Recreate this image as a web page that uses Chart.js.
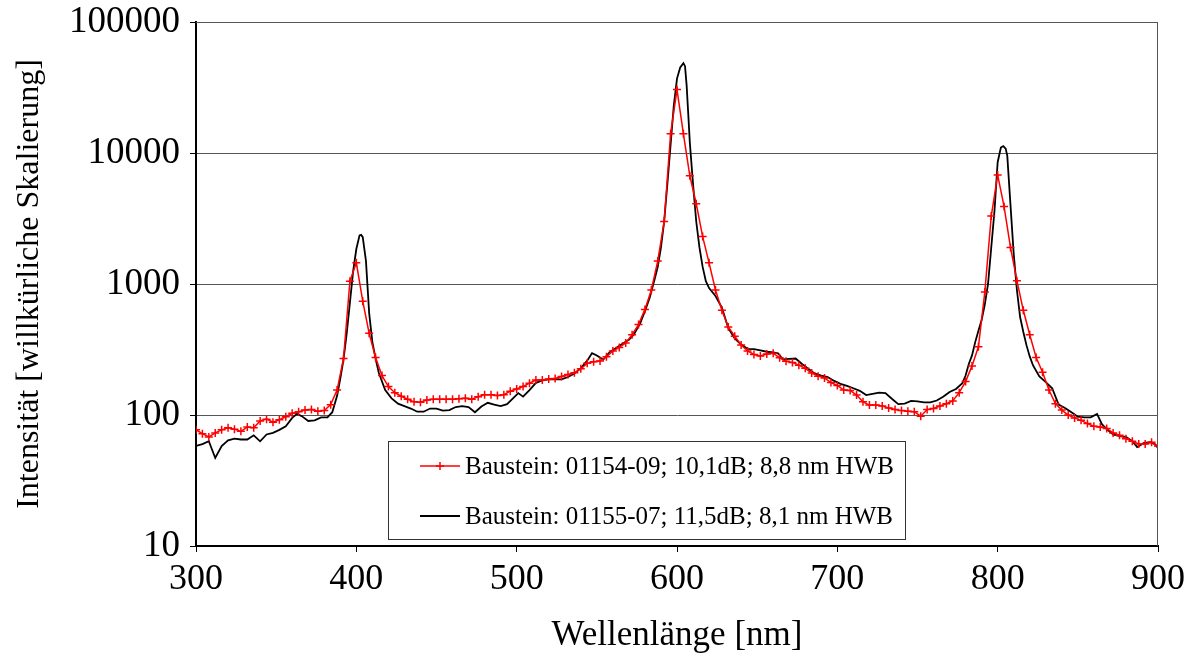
<!DOCTYPE html>
<html><head><meta charset="utf-8">
<script src="https://cdn.jsdelivr.net/npm/chart.js@4/dist/chart.umd.min.js"></script>
<style>html,body{margin:0;padding:0;background:#fff;}#wrap{width:1185px;height:657px;position:relative}</style>
</head><body><div id="wrap"><canvas id="c" width="1185" height="657"></canvas></div>
<script>
const seriesLabels = ['Baustein: 01154-09; 10,1dB; 8,8 nm HWB', 'Baustein: 01155-07; 11,5dB; 8,1 nm HWB'];
const xTicks = [300, 400, 500, 600, 700, 800, 900];
const yTicks = [10, 100, 1000, 10000, 100000];

const redNm = [300,304,308,312,316,320,324,328,332,336,340,344,348,352,356,360,364,368,372,376,380,384,388,392,396,400,404,408,412,416,420,424,428,432,436,440,444,448,452,456,460,464,468,472,476,480,484,488,492,496,500,504,508,512,516,520,524,528,532,536,540,544,548,552,556,560,564,568,572,576,580,584,588,592,596,600,604,608,612,616,620,624,628,632,636,640,644,648,652,656,660,664,668,672,676,680,684,688,692,696,700,704,708,712,716,720,724,728,732,736,740,744,748,752,756,760,764,768,772,776,780,784,788,792,796,800,804,808,812,816,820,824,828,832,836,840,844,848,852,856,860,864,868,872,876,880,884,888,892,896,900];
const redVal = [77,72,68,73,77,80,78,75,81,80,90,93,88,92,97,103,106,109,110,107,108,120,155,270,1050,1450,740,420,275,200,165,148,139,132,126,125,130,132,132,132,132,133,134,132,138,143,143,141,143,152,158,165,175,185,185,188,190,197,204,210,225,248,255,258,278,308,328,355,410,490,640,900,1500,3000,14000,30500,14000,6700,4100,2300,1450,900,630,470,400,342,308,290,282,292,296,273,257,252,240,227,209,198,192,177,168,155,154,142,126,119,119,117,113,110,108,107,106,98,110,112,117,122,128,148,180,237,332,870,3300,6800,3900,1900,1060,630,410,275,212,155,122,109,100,95,91,86,82,81,79,73,70,66,63,60,60,62,58];

const blackNm = [300,304,308,312,316,320,324,328,332,336,340,344,348,352,356,360,363,366,370,374,378,382,385,388,390,392,394,396,398,400,402,403,404,406,407,408,410,412,414,418,422,426,430,434,438,442,446,450,454,458,462,466,470,474,478,482,486,490,494,498,501,504,508,512,516,520,524,528,532,536,540,544,547,550,554,558,562,566,570,573,577,580,583,586,588,590,592,594,596,598,600,602,604,605,606,607,608,610,612,614,616,618,620,624,628,632,636,640,644,648,652,656,660,663,666,670,674,678,682,686,690,694,698,702,706,710,714,718,722,726,730,734,738,742,746,750,754,758,762,766,770,774,778,780,782,784,786,788,790,792,794,796,798,800,802,803.5,805,806,808,810,812,814,816,818,820,822,826,830,834,838,842,846,850,854,858,862,865,868,872,876,880,884,887,891,895,898,900];
const blackVal = [58,60,63,47,58,64,66,65,65,70,63,71,73,77,82,95,102,98,90,91,96,96,105,140,190,265,420,720,1250,1850,2350,2370,2280,1500,950,600,360,270,210,155,134,122,117,112,106,106,112,112,108,109,115,117,115,105,116,124,120,117,121,135,147,138,155,176,184,187,187,187,195,207,228,260,297,285,265,302,325,350,375,410,500,620,790,1080,1355,1900,3000,5800,11500,23000,37000,45000,48500,46000,33000,20000,12000,5800,3000,1900,1350,1050,930,810,660,460,385,345,320,318,312,304,300,296,266,268,270,245,225,207,200,195,182,173,167,160,153,142,145,148,147,133,121,122,128,127,125,125,129,138,150,158,175,200,245,285,360,440,530,700,1000,1900,3600,8500,11000,11300,10800,9500,4000,1700,900,560,430,340,280,240,197,178,160,120,113,105,97,96,96,102,85,78,71,69,68,63,57,61,62,60,56];

const SERIF = '"Liberation Serif", "Times New Roman", serif';

const framePlugin = {
  id: 'frameAndLegend',
  afterDraw(chart) {
    const {ctx, chartArea: a} = chart;
    ctx.save();
    ctx.strokeStyle = '#555';
    ctx.lineWidth = 1;
    ctx.beginPath();
    ctx.moveTo(a.left, a.top + 0.5); ctx.lineTo(a.right, a.top + 0.5);
    ctx.moveTo(a.right - 0.5, a.top); ctx.lineTo(a.right - 0.5, a.bottom);
    ctx.stroke();
    const bx = 388, by = 441, bw = 517, bh = 98;
    ctx.fillStyle = '#fff';
    ctx.fillRect(bx, by, bw, bh);
    ctx.strokeStyle = '#333';
    ctx.strokeRect(bx + 0.5, by + 0.5, bw, bh);
    ctx.font = '25px ' + SERIF;
    ctx.textBaseline = 'middle';
    ctx.textAlign = 'left';
    chart.data.datasets.forEach((ds, i) => {
      const cy = by + 25 + i * 50;
      ctx.strokeStyle = ds.borderColor;
      ctx.lineWidth = ds.borderWidth;
      ctx.beginPath(); ctx.moveTo(420, cy); ctx.lineTo(460, cy); ctx.stroke();
      if (ds.pointRadius > 0) {
        ctx.beginPath(); ctx.moveTo(436, cy); ctx.lineTo(444, cy); ctx.moveTo(440, cy - 4); ctx.lineTo(440, cy + 4); ctx.stroke();
      }
      ctx.fillStyle = '#000';
      ctx.fillText(ds.label, 465, cy + 1);
    });
    ctx.restore();
  }
};

new Chart(document.getElementById('c'), {
  type: 'line',
  data: {
    datasets: [
      { label: seriesLabels[0], data: redNm.map((x, i) => ({x, y: redVal[i]})), borderColor: '#ff0000', borderWidth: 1.5,
        pointStyle: 'cross', pointRadius: 4, pointBorderWidth: 1.5, pointBorderColor: '#ff0000', pointBackgroundColor: '#ff0000', tension: 0, fill: false },
      { label: seriesLabels[1], data: blackNm.map((x, i) => ({x, y: blackVal[i]})), borderColor: '#000000', borderWidth: 1.8,
        pointRadius: 0, tension: 0, fill: false }
    ]
  },
  options: {
    responsive: false, animation: false,
    layout: {padding: {left: 0, right: 27, top: 22, bottom: 0}},
    plugins: {legend: {display: false}, tooltip: {enabled: false}},
    scales: {
      x: {
        type: 'linear', min: 300, max: 900,
        afterBuildTicks: s => { s.ticks = xTicks.map(v => ({value: v})); },
        afterFit: s => { s.height = 111; },
        ticks: {font: {family: SERIF, size: 36, lineHeight: 1.55}, color: '#000', padding: 0, maxRotation: 0, autoSkip: false},
        grid: {display: true, drawOnChartArea: false, drawTicks: true, tickLength: 6, tickColor: '#000'},
        border: {display: true, color: '#000', width: 2},
        title: {display: true, text: 'Wellenlänge [nm]', color: '#000', font: {family: SERIF, size: 35}, padding: {top: 0, bottom: 0}}
      },
      y: {
        type: 'logarithmic', min: 10, max: 100000,
        afterBuildTicks: s => { s.ticks = yTicks.map(v => ({value: v})); },
        afterFit: s => { s.width = 196; },
        ticks: {font: {family: SERIF, size: 37, lineHeight: 0.6}, color: '#000', padding: 10, callback: v => String(v), autoSkip: false},
        grid: {display: true, color: '#555', lineWidth: 1, drawTicks: true, tickLength: 6, tickColor: '#000'},
        border: {display: true, color: '#000', width: 2},
        title: {display: true, text: 'Intensität [willkürliche Skalierung]', color: '#000', font: {family: SERIF, size: 32}, padding: {top: 10, bottom: 0}}
      }
    }
  },
  plugins: [framePlugin]
});
</script></body></html>
